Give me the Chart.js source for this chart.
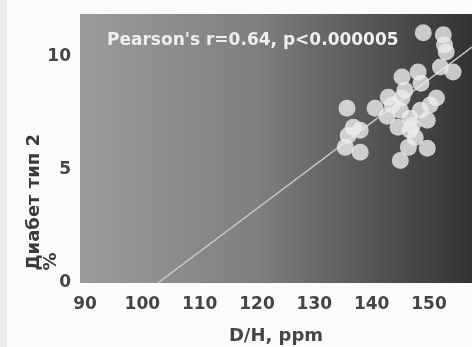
<!DOCTYPE html>
<html>
<head>
<meta charset="utf-8">
<script src="https://cdn.jsdelivr.net/npm/chart.js@4/dist/chart.umd.min.js"></script>
<style>
  html, body { margin: 0; padding: 0; background: #fbfbfb; overflow: hidden; }
  #wrap { position: relative; width: 472px; height: 347px; border-left: 7px solid #ececec; box-sizing: border-box; }
  canvas { display: block; }
</style>
</head>
<body>
<div id="wrap"><canvas id="c"></canvas></div>
<script>
// D/H (ppm) vs type 2 diabetes (%)
const dhPpm = [149.0, 152.5, 152.7, 153.0, 152.0, 154.2, 145.3, 148.1, 148.6, 151.3,
  142.9, 145.3, 140.6, 135.7, 142.7, 145.0, 146.7, 148.5, 149.7, 144.6,
  147.1, 136.8, 138.0, 135.9, 135.4, 138.0, 147.6, 146.4, 149.7, 145.0,
  145.8, 143.6, 150.2, 146.7];
const diabetes = [11.07, 10.98, 10.53, 10.22, 9.56, 9.33, 9.11, 9.33, 8.84, 8.18,
  8.22, 8.18, 7.73, 7.73, 7.38, 7.64, 7.29, 7.64, 7.2, 6.89,
  6.98, 6.89, 6.76, 6.53, 6.0, 5.78, 6.44, 6.0, 5.96, 5.42,
  8.53, 7.87, 7.87, 6.76];
const fitX = [102.7, 157.5];
const fitY = [0, 10.44];
const xTicks = [90, 100, 110, 120, 130, 140, 150];
const yTicks = [0, 5, 10];
const note = "Pearson's r=0.64, p<0.000005";

const font = "'DejaVu Sans', sans-serif";

const bgPlugin = {
  id: 'bg',
  beforeDraw(chart) {
    const { ctx, chartArea: a } = chart;
    const g = ctx.createLinearGradient(a.left, 0, a.right, 0);
    g.addColorStop(0, '#9b9b9b');
    g.addColorStop(0.45, '#7f7f7f');
    g.addColorStop(1, '#323232');
    ctx.save();
    ctx.fillStyle = g;
    ctx.fillRect(a.left, a.top, a.right - a.left, a.bottom - a.top);
    ctx.restore();
  },
  afterDraw(chart) {
    const { ctx, chartArea: a } = chart;
    ctx.save();
    ctx.font = "bold 17px " + font;
    ctx.fillStyle = '#eeeeee';
    ctx.textBaseline = 'middle';
    ctx.fillText(note, a.left + 27, a.top + 27);
    ctx.restore();
  }
};

new Chart(document.getElementById('c'), {
  type: 'scatter',
  data: {
    datasets: [
      {
        data: dhPpm.map((x, i) => ({ x, y: diabetes[i] })),
        backgroundColor: 'rgba(236,236,236,0.8)',
        borderWidth: 0,
        pointRadius: 8.5,
        order: 1
      },
      {
        type: 'line',
        data: fitX.map((x, i) => ({ x, y: fitY[i] })),
        borderColor: '#c8c8c8',
        borderWidth: 1.5,
        pointRadius: 0,
        order: 2
      }
    ]
  },
  plugins: [bgPlugin],
  options: {
    responsive: true,
    maintainAspectRatio: false,
    animation: false,
    layout: { autoPadding: false, padding: { top: 14, right: 0, left: 0, bottom: 0 } },
    plugins: { legend: { display: false }, tooltip: { enabled: false } },
    scales: {
      x: {
        type: 'linear',
        min: 89.13, max: 157.5,
        afterBuildTicks: s => { s.ticks = xTicks.map(v => ({ value: v })); },
        grid: { display: false, drawTicks: false },
        border: { display: false },
        ticks: { color: '#454545', font: { family: font, size: 17, weight: 'bold' }, padding: 11, maxRotation: 0 },
        title: { display: true, text: 'D/H, ppm', color: '#454545', font: { family: font, size: 18, weight: 'bold' }, padding: { top: 0, bottom: 0 } },
        afterFit: s => { s.height = 64; s.paddingLeft = 0; s.paddingRight = 0; }
      },
      y: {
        min: 0, max: 11.9,
        afterBuildTicks: s => { s.ticks = yTicks.map(v => ({ value: v })); },
        grid: { display: false, drawTicks: false },
        border: { display: false },
        ticks: { color: '#454545', font: { family: font, size: 17, weight: 'bold' }, padding: 9 },
        title: { display: true, text: ['\u00a0\u00a0Диабет тип 2', '\u00a0\u00a0%'], align: 'start', color: '#3a3a3a', font: { family: font, size: 18, weight: 'bold', lineHeight: 0.95 }, padding: { top: 19, bottom: 0 } },
        afterFit: s => { s.width = 73; s.paddingTop = 0; s.paddingBottom = 0; }
      }
    }
  }
});
</script>
</body>
</html>
